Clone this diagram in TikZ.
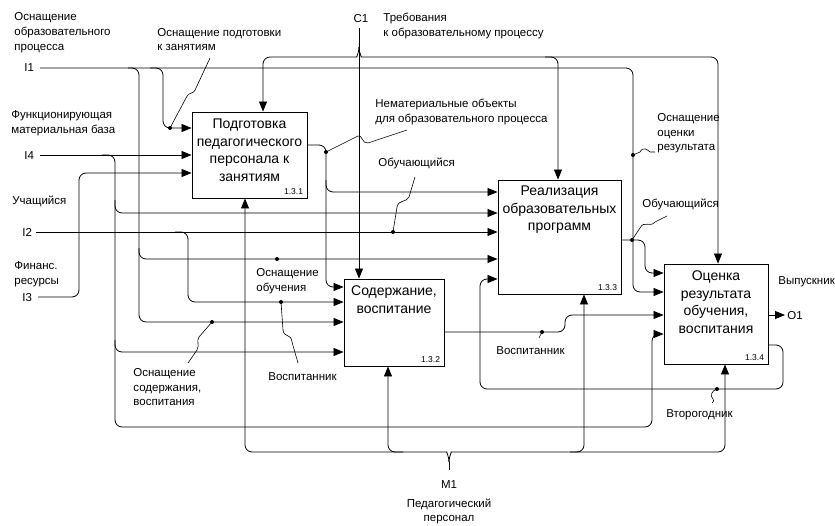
\documentclass[tikz,border=0pt]{standalone}
\usepackage{fontspec}
\setmainfont{Liberation Sans}
\usetikzlibrary{arrows.meta}
\begin{document}
\begin{tikzpicture}[x=1pt,y=-1pt,
  line width=0.8pt,
  flow/.style={draw, rounded corners=7pt},
  arr/.style={flow, -{Triangle[length=10pt,width=8pt]}},
  act/.style={draw, line width=0.9pt, inner sep=0pt},
  acttxt/.style={anchor=north, align=center, inner sep=0pt,
    font=\fontsize{14}{17.5}\selectfont},
  num/.style={anchor=south east, inner sep=0pt, font=\fontsize{8.5}{10}\selectfont},
  lbl/.style={inner sep=0pt, align=left, font=\fontsize{11.5}{15}\selectfont},
  call/.style={draw, line width=0.6pt},
  dot/.style={fill, radius=2pt}
]
\fill[white] (0,0) rectangle (835,525);
\useasboundingbox (0,0) rectangle (835,525);

% activity boxes
\node[act, minimum width=115pt, minimum height=86pt] (b1) at (249.5,155) {};
\node[act, minimum width=100pt, minimum height=87pt] (b2) at (394,322.5) {};
\node[act, minimum width=123pt, minimum height=114pt] (b3) at (559.5,237) {};
\node[act, minimum width=104pt, minimum height=100pt] (b4) at (716,314) {};

\node[acttxt] (t1) at ([yshift=-7pt]b1.north) {Подготовка\\педагогического\\персонала к\\занятиям};
\node[acttxt] (t2) at ([yshift=-7pt]b2.north) {Содержание,\\воспитание};
\node[acttxt] (t3) at ([yshift=-6pt]b3.north) {Реализация\\образовательных\\программ};
\node[acttxt] (t4) at ([yshift=-7pt]b4.north) {Оценка\\результата\\обучения,\\воспитания};

\node[num] (n1) at ([xshift=-4pt,yshift=3pt]b1.south east) {1.3.1};
\node[num] (n2) at ([xshift=-4pt,yshift=3pt]b2.south east) {1.3.2};
\node[num] (n3) at ([xshift=-4pt,yshift=3pt]b3.south east) {1.3.3};
\node[num] (n4) at ([xshift=-4pt,yshift=3pt]b4.south east) {1.3.4};

% boundary arrow ends
\coordinate (i1) at (40,68);
\coordinate (i4) at (40,155);
\coordinate (i2) at (36,232);
\coordinate (i3) at (38,297);
\coordinate (c1) at (359,28);
\coordinate (m1) at (449,470);
\coordinate (o1) at (785,315);

% I1
\draw[arr] (i1) -- (633,68) -- (633,292) -- (b4.west |- 0,292);
\draw[arr] (128,68) -- (139,68) -- (139,322) -- (b2.west |- 0,322);
\draw[arr] (139,248) -- (139,259) -- (b3.west |- 0,259);
\draw[arr] (150,68) -- (163,68) -- (163,128) -- (b1.west |- 0,128);

% I4
\draw[arr] (i4) -- (b1.west |- 0,155);
\draw[arr] (102,155) -- (115,155) -- (115,427) -- (652,427) -- (652,334) -- (b4.west |- 0,334);
\draw[arr] (115,200) -- (115,213) -- (b3.west |- 0,213);
\draw[arr] (115,340) -- (115,352) -- (b2.west |- 0,352);

% I2
\draw[arr] (i2) -- (b3.west |- 0,232);
\draw[arr] (175,232) -- (188,232) -- (188,302) -- (b2.west |- 0,302);

% I3
\draw[arr] (i3) -- (79,297) -- (79,173) -- (b1.west |- 0,173);

% output of 1.3.1
\draw[arr] (b1.east |- 0,145) -- (326,145) -- (326,287) -- (b2.west |- 0,287);
\draw[arr] (326,180) -- (326,192) -- (b3.west |- 0,192);

% C1 with its bundle
\draw[arr] (c1) -- (359,0 |- b2.north);
\draw[arr] (359,47) .. controls (359,53) and (356,57) .. (350,57) -- (263,57) -- (263,0 |- b1.north);
\draw[arr] (359,47) .. controls (359,53) and (362,57) .. (368,57) -- (718,57) -- (718,0 |- b4.north);
\draw[arr] (545,57) -- (558,57) -- (558,0 |- b3.north);

% M1 with its bundle
\draw (m1) -- (449,462);
\draw[arr] (449,462) .. controls (449,456) and (446,452) .. (440,452) -- (245,452) -- (245,0 |- b1.south);
\draw[arr] (449,462) .. controls (449,456) and (452,452) .. (458,452) -- (725,452) -- (725,0 |- b4.south);
\draw[arr] (403,452) -- (388,452) -- (388,0 |- b2.south);
\draw[arr] (570,452) -- (584,452) -- (584,0 |- b3.south);

% output of 1.3.2
\draw[arr] (b2.east |- 0,332) -- (565,332) -- (565,315) -- (b4.west |- 0,315);
% output of 1.3.3
\draw[arr] (b3.east |- 0,240) -- (645,240) -- (645,273) -- (b4.west |- 0,273);
% outputs of 1.3.4
\draw[arr] (b4.east |- 0,315) -- (o1);
\draw[arr] (b4.east |- 0,345) -- (783,345) -- (783,389) -- (480,389) -- (480,279) -- (b3.west |- 0,279);

% junction dots
\fill[dot] (170,128) circle;
\fill[dot] (326,152) circle;
\fill[dot] (393,232) circle;
\fill[dot] (633,155) circle;
\fill[dot] (632,240) circle;
\fill[dot] (277,259) circle;
\fill[dot] (281,302) circle;
\fill[dot] (212,322) circle;
\fill[dot] (542,332) circle;
\fill[dot] (717,389) circle;

% squiggle callouts
\draw[call] (170,128) -- (186,98) .. controls (190,90) and (193,96) .. (196,88) -- (210,58);
\draw[call] (326,152) -- (358,136) .. controls (362,134) and (362,144) .. (368,143) -- (407,130);
\draw[call] (393,232) -- (397,207) .. controls (399,199) and (406,203) .. (409,197) -- (415,177);
\draw[call] (633,155) -- (640,152) .. controls (643,146) and (648,150) .. (650,152) -- (655,152);
\draw[call] (632,240) -- (640,228) .. controls (644,220) and (650,228) .. (655,222) -- (667,216);
\draw[call] (281,302) -- (283,330) .. controls (284,338) and (291,333) .. (292,342) -- (298,363);
\draw[call] (212,322) -- (199,337) .. controls (196,341) and (200,345) .. (197,350) -- (188,363);
\draw[call] (542,332) -- (539,338);
\draw[call] (717,389) .. controls (711,391) and (710,396) .. (713,399) .. controls (714,401) .. (712,403);

% texts
\node[lbl, anchor=north west] (l1) at (14,12.5) {Оснащение\\образовательного\\процесса};
\node[lbl, anchor=west] (li1) at (24,68) {I1};
\node[lbl, anchor=north west] (l4) at (11,110.5) {Функционирующая\\материальная база};
\node[lbl, anchor=west] (li4) at (24,156) {I4};
\node[lbl, anchor=base west] (l2) at (12,204) {Учащийся};
\node[lbl, anchor=west] (li2) at (22,232) {I2};
\node[lbl, anchor=north west] (l3) at (14,261.5) {Финанс.\\ресурсы};
\node[lbl, anchor=west] (li3) at (22,298) {I3};
\node[lbl, anchor=base] (lc1) at (361,22) {C1};
\node[lbl, anchor=north west] (lc) at (383,12.5) {Требования\\к образовательному процессу};
\node[lbl, anchor=north west, font=\fontsize{11.5}{14}\selectfont] (la) at (157,28.5) {Оснащение подготовки\\к занятиям};
\node[lbl, anchor=north west] (lb) at (375,98.5) {Нематериальные объекты\\для образовательного процесса};
\node[lbl, anchor=base west] (lc2) at (378,166) {Обучающийся};
\node[lbl, anchor=north west, font=\fontsize{11.5}{14.5}\selectfont] (ld) at (657,113.5) {Оснащение\\оценки\\результата};
\node[lbl, anchor=base west] (le) at (642,207) {Обучающийся};
\node[lbl, anchor=base west] (lo) at (778,284) {Выпускник};
\node[lbl, anchor=west] (lo1) at (787,316) {O1};
\node[lbl, anchor=north west] (lf) at (256,268.5) {Оснащение\\обучения};
\node[lbl, anchor=base west] (lg) at (268,380) {Воспитанник};
\node[lbl, anchor=north west, font=\fontsize{11.5}{14.5}\selectfont] (lh) at (133,368.5) {Оснащение\\содержания,\\воспитания};
\node[lbl, anchor=base west] (lk) at (496,354) {Воспитанник};
\node[lbl, anchor=base west] (lm) at (666,417) {Второгодник};
\node[lbl, anchor=base] (lm1) at (449,488) {M1};
\node[lbl, anchor=north, align=center, font=\fontsize{11.5}{14}\selectfont] (ln) at (449,498.5) {Педагогический\\персонал};
\end{tikzpicture}
\end{document}
